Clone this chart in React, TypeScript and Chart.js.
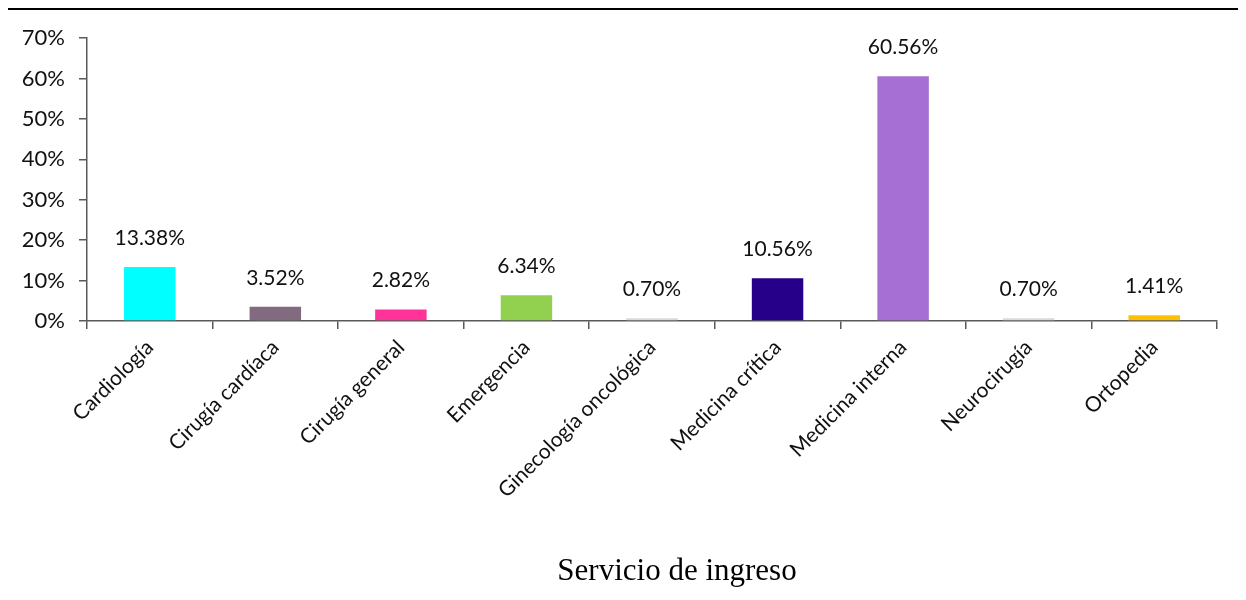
import React, { useEffect, useRef } from "react";
import { Chart, registerables } from "chart.js";

Chart.register(...registerables);

const categories = [
  "Cardiología",
  "Cirugía cardíaca",
  "Cirugía general",
  "Emergencia",
  "Ginecología oncológica",
  "Medicina crítica",
  "Medicina interna",
  "Neurocirugía",
  "Ortopedia",
];
const values = [0.1338, 0.0352, 0.0282, 0.0634, 0.007, 0.1056, 0.6056, 0.007, 0.0141];
const valueLabels = ["13.38%", "3.52%", "2.82%", "6.34%", "0.70%", "10.56%", "60.56%", "0.70%", "1.41%"];
const barColors = [
  "#00FFFF",
  "#836B7F",
  "#FF3399",
  "#92D050",
  "#D9D9D9",
  "#260089",
  "#A66FD3",
  "#D9D9D9",
  "#FFC000",
];
const yTickValues = [0, 0.1, 0.2, 0.3, 0.4, 0.5, 0.6, 0.7];
const axisTitle = "Servicio de ingreso";

const FONT = "Lato, 'Open Sans', sans-serif";
const SERIF = "'Liberation Serif', 'Times New Roman', serif";
const AXIS_COLOR = "#595959";

const W = 1246;
const H = 600;

const framePlugin = {
  id: "frame",
  beforeDraw(chart: any) {
    const ctx = chart.ctx;
    ctx.save();
    ctx.fillStyle = "#fff";
    ctx.fillRect(0, 0, W, H);
    ctx.restore();
  },
  afterDraw(chart: any) {
    const ctx = chart.ctx;
    ctx.save();
    ctx.fillStyle = "#000";
    ctx.fillRect(5, 8, W - 9, 2);
    ctx.fillRect(5, 8, 3, H);
    ctx.fillRect(W - 6, 8, 3, H);
    ctx.restore();
  },
};

const valueLabelPlugin = {
  id: "valueLabels",
  afterDatasetsDraw(chart: any) {
    const ctx = chart.ctx;
    const meta = chart.getDatasetMeta(0);
    ctx.save();
    ctx.font = `21px ${FONT}`;
    ctx.fillStyle = "#111";
    ctx.textAlign = "center";
    ctx.textBaseline = "middle";
    meta.data.forEach((el: any, i: number) => {
      ctx.fillText(valueLabels[i], el.x, el.y - 29);
    });
    const area = chart.chartArea;
    ctx.font = `31px ${SERIF}`;
    ctx.fillStyle = "#000";
    ctx.fillText(axisTitle, (area.left + area.right) / 2 + 25, 572);
    ctx.restore();
  },
};

export default function App() {
  const ref = useRef<HTMLCanvasElement | null>(null);

  useEffect(() => {
    if (!ref.current) return;
    const chart = new Chart(ref.current, {
      type: "bar",
      data: {
        labels: categories,
        datasets: [
          {
            data: values,
            backgroundColor: barColors,
            borderWidth: 0,
            barPercentage: 0.41,
            categoryPercentage: 1,
          },
        ],
      },
      options: {
        responsive: false,
        animation: false,
        layout: { padding: { top: 38, right: 29, left: 0, bottom: 0 } },
        plugins: {
          legend: { display: false },
          tooltip: { enabled: false },
        },
        scales: {
          y: {
            min: 0,
            max: 0.7,
            afterFit(scale: any) {
              scale.width = 87;
            },
            afterBuildTicks(scale: any) {
              scale.ticks = yTickValues.map((v) => ({ value: v }));
            },
            ticks: {
              callback: (v: any) => `${Math.round(Number(v) * 100)}%`,
              font: { family: FONT, size: 22 },
              color: "#111",
              padding: 14,
            },
            grid: {
              drawOnChartArea: false,
              drawTicks: true,
              tickLength: 8,
              color: AXIS_COLOR,
              lineWidth: 1.5,
            },
            border: { display: true, color: AXIS_COLOR, width: 1.5 },
          },
          x: {
            afterFit(scale: any) {
              scale.height = 279;
            },
            ticks: {
              minRotation: 45,
              maxRotation: 45,
              autoSkip: false,
              font: { family: FONT, size: 21 },
              color: "#111",
              padding: 6,
            },
            grid: {
              offset: true,
              drawOnChartArea: false,
              drawTicks: true,
              tickLength: 8,
              color: AXIS_COLOR,
              lineWidth: 1.5,
            },
            border: { display: true, color: AXIS_COLOR, width: 1.5 },
          },
        },
      },
      plugins: [framePlugin, valueLabelPlugin],
    });
    return () => chart.destroy();
  }, []);

  return (
    <div style={{ margin: -8, width: W, height: H, overflow: "hidden" }}>
      <canvas ref={ref} width={W} height={H} style={{ display: "block", width: W, height: H }} />
    </div>
  );
}
